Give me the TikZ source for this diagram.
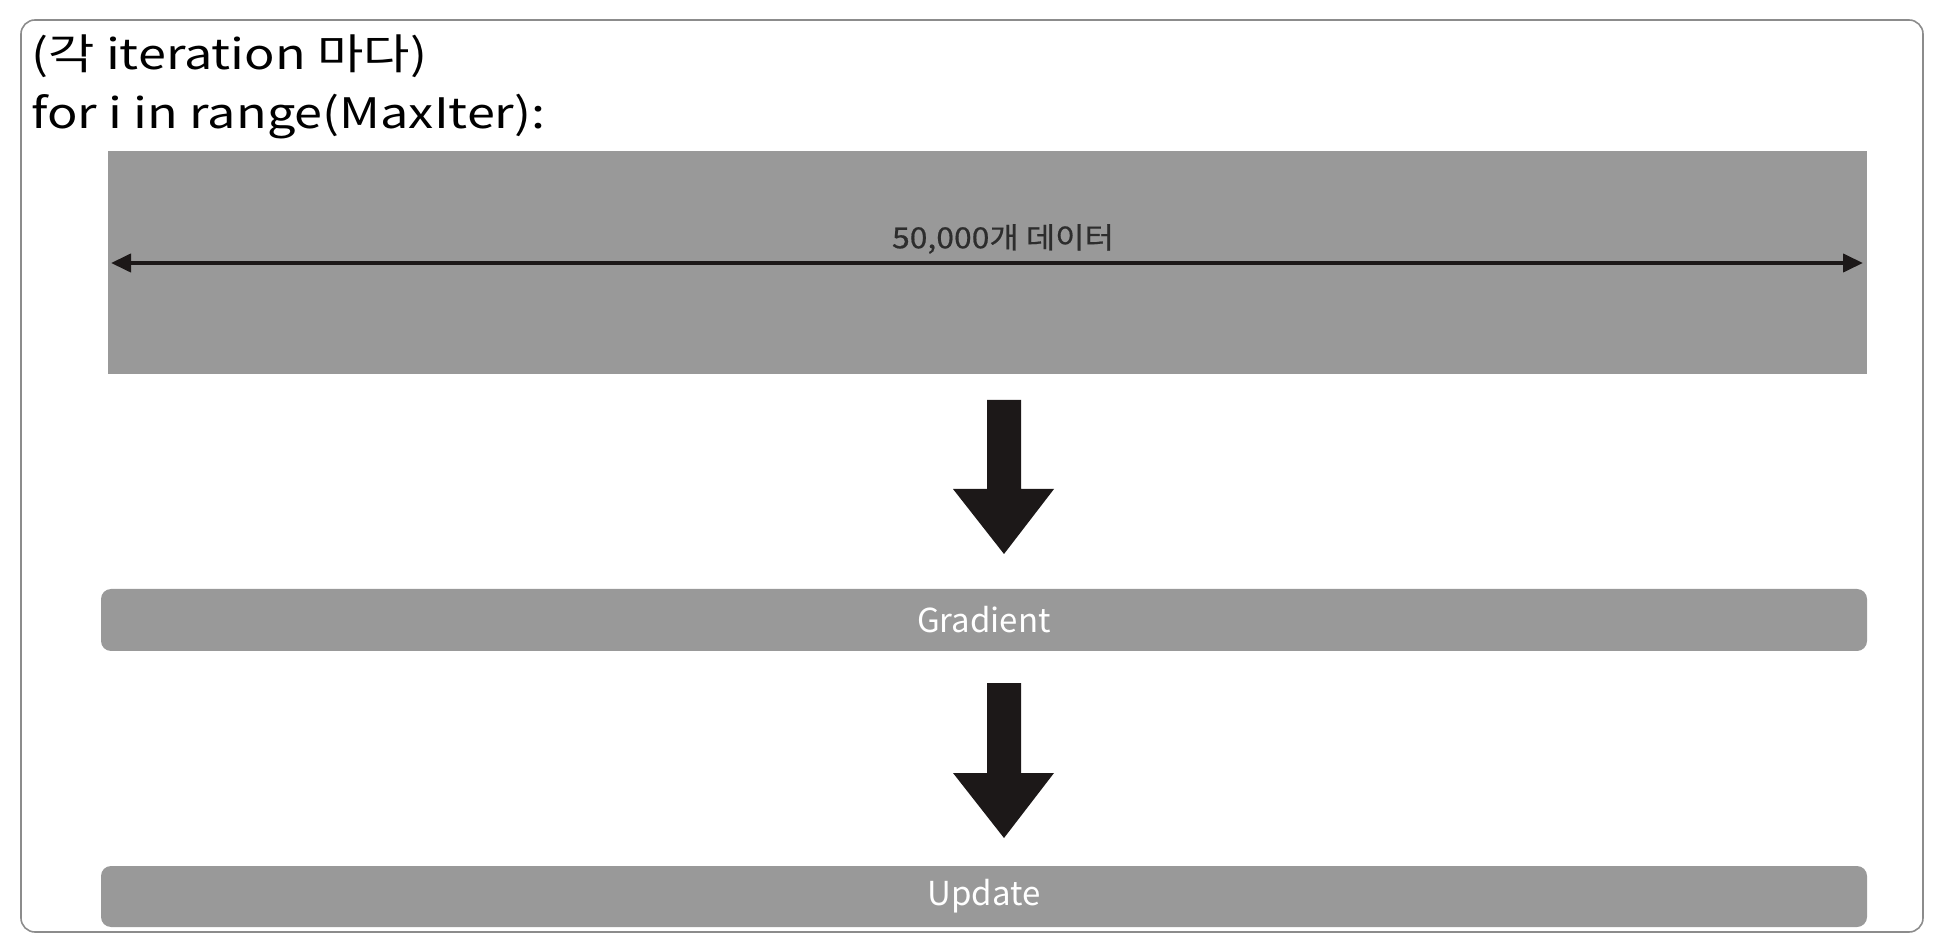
\documentclass[tikz,border=0pt]{standalone}
\usepackage{fontspec}
\setmainfont{Noto Sans CJK KR}
\newfontfamily\titlefont[FakeStretch=1.2]{Noto Sans CJK KR}
\newfontfamily\lblfont[FakeStretch=1.1,FakeBold=0.6]{Noto Sans CJK KR}
\usetikzlibrary{arrows.meta}
\definecolor{boxgray}{RGB}{153,153,153}
\definecolor{framegray}{RGB}{140,140,140}
\definecolor{arrowblack}{RGB}{28,24,24}
\definecolor{labeldark}{RGB}{45,45,45}
\tikzset{
  graybox/.style={fill=boxgray, draw=none, inner sep=0pt},
  barbox/.style={fill=boxgray, draw=none, rounded corners=5pt, inner sep=0pt,
    text=white, font=\fontsize{16.5}{19}\selectfont},
  titletext/.style={anchor=base west, inner sep=0pt, font=\titlefont\fontsize{21}{24}\selectfont, text=black},
  blockarrow/.style={fill=arrowblack, draw=none},
}
\begin{document}
\begin{tikzpicture}[x=0.5pt,y=-0.5pt]
\useasboundingbox (0,0) rectangle (1940,946);
% outer frame
\draw[framegray, line width=0.8pt, rounded corners=7pt] (21,20) rectangle (1923,932);
% title
\node[titletext] (t1) at (31,70) {(각 iteration 마다)};
\node[titletext] (t2) at (31,129) {for i in range(MaxIter):};
% data box
\path[graybox] (108,151) rectangle (1867,374);
\node[inner sep=0pt] (data) at (987.5,262.5) {};
\coordinate (dl) at (111,263);
\coordinate (dr) at (1863,263);
\draw[arrowblack, line width=2pt, {Triangle[length=10pt,width=9pt]}-{Triangle[length=10pt,width=9pt]}] (dl) -- (dr);
\node[inner sep=0pt, text=labeldark, font=\lblfont\fontsize{14.5}{17}\selectfont] (lbl) at (1003,239) {50,000개 데이터};
% gradient bar
\node[barbox, minimum width=883pt, minimum height=31pt] (grad) at (984,620) {Gradient};
% update bar
\node[barbox, minimum width=883pt, minimum height=30.5pt] (upd) at (984,896.5) {Update};
% block arrows
\path[blockarrow] (987,400) -- (1021,400) -- (1021,489) -- (1054,489) -- (1004,554) -- (953,489) -- (987,489) -- cycle;
\path[blockarrow] (987,683) -- (1021,683) -- (1021,773) -- (1054,773) -- (1004,838) -- (953,773) -- (987,773) -- cycle;
\end{tikzpicture}
\end{document}
